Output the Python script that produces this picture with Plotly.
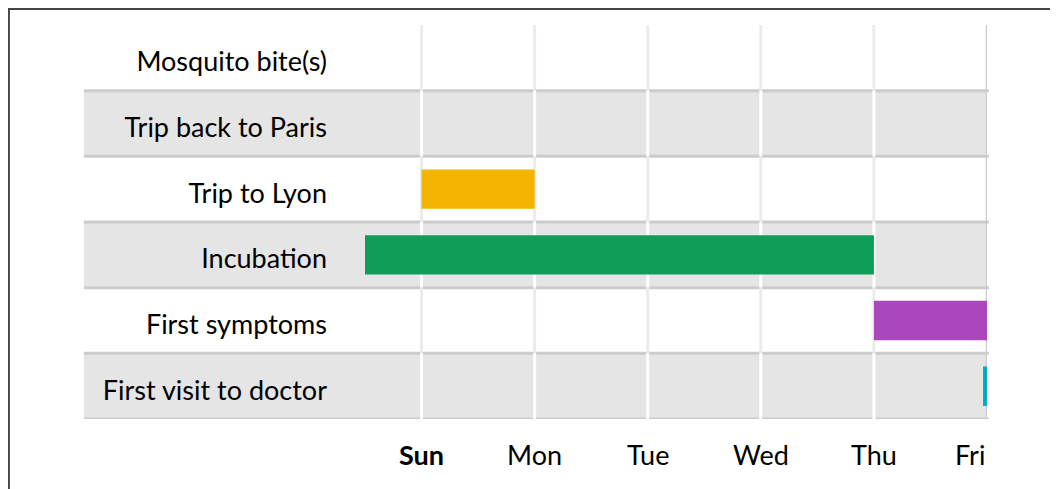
import plotly.graph_objects as go

# ---- data ----
tasks = ["Mosquito bite(s)", "Trip back to Paris", "Trip to Lyon",
         "Incubation", "First symptoms", "First visit to doctor"]
starts = [None, None, 0.0, -0.5, 4.0, 4.965]   # days, Sun = 0
ends = [None, None, 1.0, 4.0, 5.0, 5.0]
bar_colors = ["#4285f4", "#db4437", "#f4b400", "#0f9d58", "#ab47bc", "#00acc1"]
day_vals = [0, 1, 2, 3, 4, 5]
day_labels = ["<b>Sun</b>", "Mon", "Tue", "Wed", "Thu", "Fri"]

FONT = "Lato"
FS = 27
n = len(tasks)
rows = list(range(n))
durations = [(e - s) if (s is not None and e is not None) else None for s, e in zip(starts, ends)]

fig = go.Figure()
fig.add_trace(go.Bar(
    y=rows, x=durations, base=starts, orientation="h",
    marker=dict(color=bar_colors, line=dict(width=0)),
    width=0.6, hoverinfo="skip", showlegend=False,
))

shapes = []
band_left = -0.452
# row bands
for i in rows:
    if i % 2 == 1:
        shapes.append(dict(type="rect", xref="paper", yref="y", x0=band_left, x1=1,
                           y0=i - 0.5, y1=i + 0.5, fillcolor="#e5e5e5",
                           line=dict(width=0), layer="below"))
# vertical gridlines per band
for d in day_vals[:-1]:
    for i in rows:
        shapes.append(dict(type="line", xref="x", yref="y", x0=d, x1=d,
                           y0=i - 0.5, y1=i + 0.5,
                           line=dict(color="#ffffff" if i % 2 == 1 else "#ebebeb", width=3),
                           layer="below"))
# right edge line
shapes.append(dict(type="line", xref="x", yref="y", x0=day_vals[-1], x1=day_vals[-1],
                   y0=-0.5, y1=n - 0.5, line=dict(color="#cccccc", width=2.5), layer="below"))
# row separators
for i in rows:
    shapes.append(dict(type="line", xref="paper", yref="y", x0=band_left, x1=1.003,
                       y0=i + 0.5, y1=i + 0.5, line=dict(color="#cccccc", width=3),
                       layer="below"))
# outer frame (left and top)
shapes.append(dict(type="line", xref="paper", yref="paper", x0=-0.5725, x1=-0.5725,
                   y0=1.06, y1=-0.3, line=dict(color="#444444", width=2)))
shapes.append(dict(type="line", xref="paper", yref="paper", x0=-0.5725, x1=1.2,
                   y0=1.0405, y1=1.0405, line=dict(color="#444444", width=2)))

annotations = []
for v, lab in zip(day_vals, day_labels):
    last = v == day_vals[-1]
    annotations.append(dict(x=v, xref="x", y=-0.089, yref="paper", text=lab,
                            showarrow=False, xanchor="right" if last else "center",
                            yanchor="middle",
                            font=dict(family=FONT, size=FS, color="#000000")))

fig.update_layout(
    width=1050, height=481,
    margin=dict(l=357, r=71, t=17, b=70),
    paper_bgcolor="#ffffff", plot_bgcolor="#ffffff",
    shapes=shapes, annotations=annotations,
    xaxis=dict(range=[-0.5, 5], showgrid=False, zeroline=False, showticklabels=False,
               showline=False, fixedrange=True),
    yaxis=dict(range=[n - 0.5, -0.5], tickvals=rows, ticktext=tasks, showgrid=False,
               zeroline=False, showline=False, ticks="", ticklabelstandoff=37,
               ticklabelshift=-4,
               tickfont=dict(family=FONT, size=FS, color="#000000")),
    font=dict(family=FONT),
)

fig.write_html("out.html")
